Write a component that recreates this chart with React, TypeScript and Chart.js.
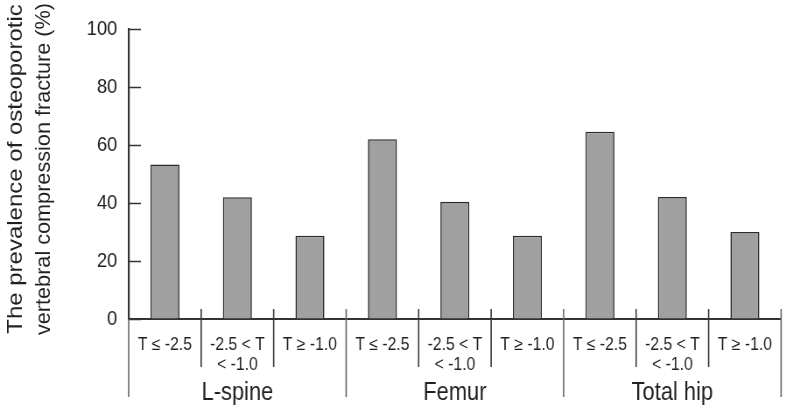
import React, { useEffect, useRef } from "react";
import { Chart, registerables } from "chart.js";

Chart.register(...registerables);

const categories: (string | string[])[] = [
  "T ≤ -2.5", ["-2.5 < T", "< -1.0"], "T ≥ -1.0",
  "T ≤ -2.5", ["-2.5 < T", "< -1.0"], "T ≥ -1.0",
  "T ≤ -2.5", ["-2.5 < T", "< -1.0"], "T ≥ -1.0",
];
const values = [53.3, 42, 28.7, 62, 40.4, 28.7, 64.6, 42.1, 30];
const groups = ["L-spine", "Femur", "Total hip"];
const yMin = 0;
const yMax = 100;
const yStep = 20;
const yTitle = ["The prevalence of osteoporotic", "vertebral compression fracture (%)"];

// The picture is drawn on a wider canvas and shown narrower (horizontal squeeze of the original figure)
const VIEW_W = 786;
const VIEW_H = 409;
const SQUEEZE = 0.875;
const CANVAS_W = Math.round(VIEW_W / SQUEEZE);

const FONT = "'Liberation Sans', Arial, sans-serif";
const INK = "#231f20";

const decorPlugin = {
  id: "decor",
  afterDraw(chart: any) {
    const ctx = chart.ctx;
    const xs = chart.scales.x;
    const ys = chart.scales.y;
    const n = categories.length;
    const w = (xs.right - xs.left) / n;
    const base = ys.bottom;
    ctx.save();
    // inward y ticks
    ctx.strokeStyle = "#333";
    ctx.lineWidth = 1.5;
    ys.ticks.forEach((t: any) => {
      const py = Math.round(ys.getPixelForValue(t.value)) + 0.5;
      ctx.beginPath();
      ctx.moveTo(xs.left, py);
      ctx.lineTo(xs.left + 14, py);
      ctx.stroke();
    });
    // category boundaries
    for (let i = 0; i <= n; i++) {
      const bx = i < n ? xs.getPixelForValue(i) - w / 2 : xs.getPixelForValue(n - 1) + w / 2;
      const isGroup = i % 3 === 0;
      ctx.strokeStyle = isGroup ? "#666" : "#3a3a3a";
      ctx.lineWidth = 1.6;
      ctx.beginPath();
      ctx.moveTo(bx, i === 0 ? base : base - 10);
      ctx.lineTo(bx, isGroup ? base + 78 : base + 48);
      ctx.stroke();
    }
    // group labels
    ctx.fillStyle = INK;
    ctx.font = `25px ${FONT}`;
    ctx.textAlign = "center";
    ctx.textBaseline = "alphabetic";
    groups.forEach((g, gi) => {
      const cx = (xs.getPixelForValue(gi * 3) + xs.getPixelForValue(gi * 3 + 2)) / 2;
      ctx.fillText(g, cx, base + 81);
    });
    // y-axis title (two rotated lines)
    ctx.font = `24px ${FONT}`;
    ctx.textBaseline = "middle";
    const titleCenterY = (ys.top + ys.bottom) / 2 - 5;
    const lineX = [18.5, 50.5];
    yTitle.forEach((line, li) => {
      ctx.save();
      ctx.translate(lineX[li], titleCenterY);
      ctx.rotate(-Math.PI / 2);
      ctx.fillText(line, 0, 0, 332);
      ctx.restore();
    });
    ctx.restore();
  },
};

export default function App() {
  const ref = useRef<HTMLCanvasElement | null>(null);
  useEffect(() => {
    document.body.style.margin = "0";
    const canvas = ref.current;
    if (!canvas) return;
    const chart = new Chart(canvas, {
      type: "bar",
      data: {
        labels: categories as any,
        datasets: [
          {
            data: values,
            backgroundColor: "#a0a0a0",
            borderColor: "#2b2b2b",
            borderWidth: 1.6,
            barPercentage: 0.4,
            categoryPercentage: 1,
          },
        ],
      },
      options: {
        animation: false,
        responsive: false,
        maintainAspectRatio: false,
        devicePixelRatio: 1,
        layout: { padding: { top: 29, right: 1, bottom: 0, left: 0 } },
        plugins: { legend: { display: false }, tooltip: { enabled: false } },
        scales: {
          x: {
            offset: true,
            grid: { drawOnChartArea: false, drawTicks: false },
            border: { display: true, color: "#333", width: 2 },
            ticks: {
              color: INK,
              font: { family: FONT, size: 18, lineHeight: 1.111 },
              padding: 16,
              maxRotation: 0,
              minRotation: 0,
              autoSkip: false,
            },
            afterFit(scale: any) {
              scale.height = 90;
            },
          },
          y: {
            min: yMin,
            max: yMax,
            grid: { drawOnChartArea: false, drawTicks: false },
            border: { display: true, color: "#333", width: 2.2 },
            ticks: {
              stepSize: yStep,
              color: INK,
              font: { family: FONT, size: 21 },
              padding: 13,
            },
            title: { display: false, text: yTitle },
            afterFit(scale: any) {
              scale.width = 147;
            },
          },
        },
      },
      plugins: [decorPlugin],
    });
    return () => chart.destroy();
  }, []);
  return (
    <div style={{ position: "absolute", left: 0, top: 0, width: VIEW_W, height: VIEW_H, overflow: "hidden" }}>
      <canvas
        ref={ref}
        width={CANVAS_W}
        height={VIEW_H}
        style={{ display: "block", width: `${VIEW_W}px`, height: `${VIEW_H}px` }}
      />
    </div>
  );
}
